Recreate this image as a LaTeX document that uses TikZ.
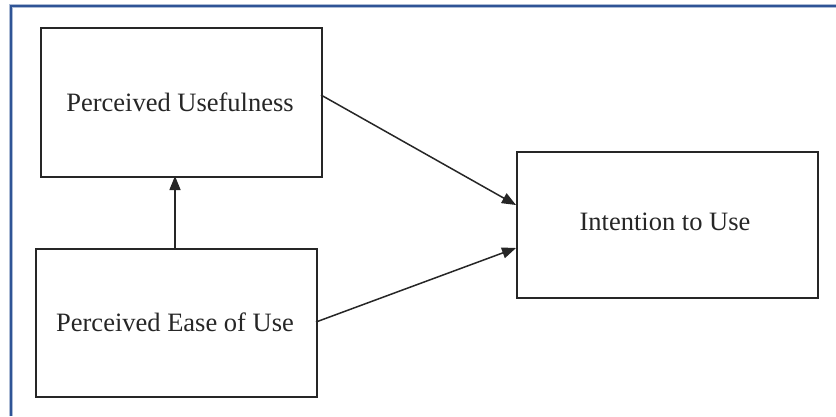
\documentclass[tikz,border=0pt]{standalone}
\usepackage{fontspec}
\setmainfont{Liberation Serif}
\usetikzlibrary{arrows.meta}
\definecolor{frameblue}{RGB}{47,84,150}
\begin{document}
\begin{tikzpicture}[x=1pt,y=-1pt,
  box/.style={draw=black!85, line width=1.8pt, rectangle, inner sep=0pt, anchor=north west},
  lbl/.style={font=\fontsize{26.5}{30}\selectfont, text=black!85},
  arr/.style={draw=black!85, line width=1.5pt, -{Triangle[length=14pt,width=11pt]}}]
\useasboundingbox (0,0) rectangle (836,416);
\fill[white] (0,0) rectangle (836,416);
\draw[frameblue!40, line width=4pt] (11,416) -- (11,6) -- (836,6);
\draw[frameblue, line width=2.4pt] (11,416) -- (11,6) -- (836,6);
\node[box, minimum width=281pt, minimum height=149pt] (pu) at (40,27) {};
\node[box, minimum width=281pt, minimum height=148pt] (pe) at (35,248) {};
\node[box, minimum width=301pt, minimum height=146pt] (iu) at (516,151) {};
\node[lbl] (tpu) at (180,102) {Perceived Usefulness};
\node[lbl] (tpe) at (175,322) {Perceived Ease of Use};
\node[lbl] (tiu) at (665,222) {Intention to Use};
\coordinate (a1s) at (321,95);
\coordinate (a1e) at (516,205);
\coordinate (a2s) at (316,322);
\coordinate (a2e) at (516,248);
\coordinate (a3s) at (175,248);
\coordinate (a3e) at (175,176);
\draw[arr] (a1s) -- (a1e);
\draw[arr] (a2s) -- (a2e);
\draw[arr] (a3s) -- (a3e);
\end{tikzpicture}
\end{document}
